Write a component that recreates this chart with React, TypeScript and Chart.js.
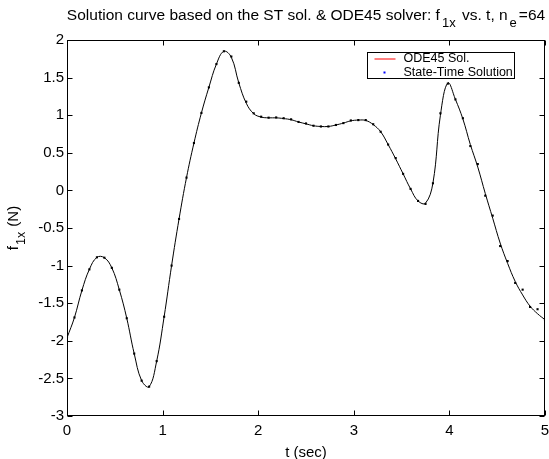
import React, { useEffect, useRef } from "react";
import { Chart, registerables } from "chart.js";

Chart.register(...registerables);

const tNodes = [
  0, 0.078, 0.156, 0.234, 0.313, 0.391, 0.469, 0.547, 0.625, 0.703, 0.781, 0.859, 0.938,
  1.016, 1.094, 1.172, 1.25, 1.328, 1.406, 1.484, 1.563, 1.641, 1.719, 1.797, 1.875, 1.953,
  2.031, 2.109, 2.188, 2.266, 2.344, 2.422, 2.5, 2.578, 2.656, 2.734, 2.813, 2.891, 2.969,
  3.047, 3.125, 3.203, 3.281, 3.359, 3.438, 3.516, 3.594, 3.672, 3.75, 3.828, 3.906, 3.984,
  4.063, 4.141, 4.219, 4.297, 4.375, 4.453, 4.531, 4.609, 4.688, 4.766, 4.844, 4.922, 5.0,
];

const stSolution = [
  -1.95, -1.69, -1.33, -1.05, -0.89, -0.895, -1.03, -1.32, -1.7, -2.17, -2.53, -2.61, -2.27,
  -1.68, -1.0, -0.38, 0.17, 0.63, 1.03, 1.37, 1.68, 1.85, 1.78, 1.43, 1.18, 1.025,
  0.98, 0.967, 0.97, 0.96, 0.945, 0.91, 0.89, 0.86, 0.85, 0.85, 0.87, 0.895, 0.93,
  0.935, 0.935, 0.88, 0.78, 0.61, 0.43, 0.22, 0.02, -0.14, -0.18, 0.095, 1.025, 1.42,
  1.21, 0.96, 0.59, 0.35, -0.07, -0.335, -0.74, -0.94, -1.23, -1.32, -1.55, -1.58, -1.72,
];

const odeSolution = [
  -1.96, -1.69, -1.33, -1.05, -0.89, -0.895, -1.03, -1.32, -1.7, -2.17, -2.53, -2.61, -2.27,
  -1.68, -1.0, -0.38, 0.17, 0.63, 1.03, 1.37, 1.68, 1.85, 1.77, 1.43, 1.16, 1.02,
  0.975, 0.965, 0.965, 0.955, 0.94, 0.91, 0.885, 0.86, 0.85, 0.85, 0.87, 0.895, 0.925,
  0.935, 0.93, 0.875, 0.78, 0.61, 0.42, 0.22, 0.02, -0.14, -0.17, 0.1, 1.0, 1.43,
  1.21, 0.95, 0.61, 0.31, -0.04, -0.37, -0.7, -0.97, -1.21, -1.39, -1.54, -1.64, -1.72,
];

const xTickValues = [0, 1, 2, 3, 4, 5];
const yTickValues = [-3, -2.5, -2, -1.5, -1, -0.5, 0, 0.5, 1, 1.5, 2];

const titleParts = [
  { text: "Solution curve based on the ST sol. & ODE45 solver: f", sub: false },
  { text: "1x", sub: true },
  { text: " vs. t, n", sub: false },
  { text: "e", sub: true },
  { text: "=64", sub: false },
];
const xLabel = "t (sec)";
const yLabelParts = [
  { text: "f", sub: false },
  { text: "1x", sub: true },
  { text: " (N)", sub: false },
];
const legendLabels = ["ODE45 Sol.", "State-Time Solution"];

const FONT = '"Liberation Sans", Arial, Helvetica, sans-serif';

type Part = { text: string; sub: boolean };

function drawRich(
  ctx: CanvasRenderingContext2D,
  parts: Part[],
  cx: number,
  baseline: number,
  mainSize: number,
  subSize: number,
  subShift: number,
  gap: number
) {
  let total = 0;
  const widths = parts.map((p) => {
    ctx.font = `${p.sub ? subSize : mainSize}px ${FONT}`;
    const w = ctx.measureText(p.text).width + (p.sub ? 2 * gap : 0);
    total += w;
    return w;
  });
  let x = cx - total / 2;
  ctx.textAlign = "left";
  ctx.textBaseline = "alphabetic";
  parts.forEach((p, i) => {
    ctx.font = `${p.sub ? subSize : mainSize}px ${FONT}`;
    ctx.fillText(p.text, x + (p.sub ? gap : 0), baseline + (p.sub ? subShift : 0));
    x += widths[i];
  });
}

const decorPlugin = {
  id: "matlabDecor",
  afterDraw(chart: any) {
    const ctx: CanvasRenderingContext2D = chart.ctx;
    const area = chart.chartArea;
    const xs = chart.scales.x;
    const ys = chart.scales.y;
    ctx.save();
    ctx.strokeStyle = "#000";
    ctx.fillStyle = "#000";
    ctx.lineWidth = 1;
    const L = Math.round(area.left) + 0.5;
    const R = Math.round(area.right) - 0.5;
    const T = Math.round(area.top) + 0.5;
    const B = Math.round(area.bottom) - 0.5;
    ctx.strokeRect(L, T, R - L, B - T);
    const tl = 5;
    ctx.beginPath();
    xTickValues.forEach((v) => {
      const px = Math.round(xs.getPixelForValue(v)) + 0.5;
      ctx.moveTo(px, B);
      ctx.lineTo(px, B - tl);
      ctx.moveTo(px, T);
      ctx.lineTo(px, T + tl);
    });
    yTickValues.forEach((v) => {
      const py = Math.round(ys.getPixelForValue(v)) + 0.5;
      ctx.moveTo(L, py);
      ctx.lineTo(L + tl, py);
      ctx.moveTo(R, py);
      ctx.lineTo(R - tl, py);
    });
    ctx.stroke();

    // Legend
    const lx = R - 30;
    const lw = 147;
    const ly = T + 12;
    const lh = 26;
    ctx.fillStyle = "#fff";
    ctx.fillRect(lx - lw, ly, lw, lh);
    ctx.strokeStyle = "#000";
    ctx.strokeRect(lx - lw, ly, lw, lh);
    ctx.save();
    ctx.beginPath();
    ctx.rect(lx - lw, ly, lw, lh);
    ctx.clip();
    const x0 = lx - lw;
    ctx.strokeStyle = "#ff0000";
    ctx.beginPath();
    ctx.moveTo(x0 + 7, ly + 6.5);
    ctx.lineTo(x0 + 28, ly + 6.5);
    ctx.stroke();
    ctx.fillStyle = "#0000ff";
    ctx.fillRect(x0 + 16, ly + 19, 2, 2);
    ctx.fillStyle = "#000";
    ctx.font = `12.5px ${FONT}`;
    ctx.textAlign = "left";
    ctx.textBaseline = "middle";
    ctx.fillText(legendLabels[0], x0 + 36, ly + 6.5);
    ctx.fillText(legendLabels[1], x0 + 36, ly + 20);
    ctx.restore();

    // Title
    ctx.fillStyle = "#000";
    const cx = (area.left + area.right) / 2;
    drawRich(ctx, titleParts as Part[], cx, 20, 15.5, 13, 7, 2);

    // X label
    ctx.font = `15px ${FONT}`;
    ctx.textAlign = "center";
    ctx.textBaseline = "alphabetic";
    ctx.fillText(xLabel, cx, 457);

    // Y label
    ctx.save();
    ctx.translate(18, (area.top + area.bottom) / 2);
    ctx.rotate(-Math.PI / 2);
    drawRich(ctx, yLabelParts as Part[], 0, 0, 15, 12.5, 7, 1);
    ctx.restore();

    ctx.restore();
  },
};

export default function App() {
  const canvasRef = useRef<HTMLCanvasElement | null>(null);

  useEffect(() => {
    const canvas = canvasRef.current;
    if (!canvas) return;
    const chart = new Chart(canvas, {
      type: "line",
      data: {
        datasets: [
          {
            label: legendLabels[0],
            data: tNodes.map((t, i) => ({ x: t, y: odeSolution[i] })),
            borderColor: "#000",
            borderWidth: 1,
            pointRadius: 0,
            fill: false,
            tension: 0.4,
          },
          {
            label: legendLabels[1],
            data: tNodes.map((t, i) => ({ x: t, y: stSolution[i] })),
            showLine: false,
            pointStyle: "rect",
            pointRadius: 1.5,
            pointBorderWidth: 0,
            backgroundColor: "#000",
            borderColor: "#000",
          },
        ],
      },
      options: {
        animation: false,
        responsive: false,
        maintainAspectRatio: false,
        layout: { padding: { top: 40, right: 3, left: 0, bottom: 0 } },
        plugins: {
          legend: { display: false },
          title: { display: false },
          tooltip: { enabled: false },
        },
        scales: {
          x: {
            type: "linear",
            min: 0,
            max: 5,
            grid: { display: false, drawTicks: false },
            border: { display: false },
            afterBuildTicks: (s: any) => {
              s.ticks = xTickValues.map((v) => ({ value: v }));
            },
            afterFit: (s: any) => {
              s.height = 43;
              s.paddingLeft = 0;
              s.paddingRight = 0;
            },
            ticks: {
              padding: 6,
              color: "#000",
              maxRotation: 0,
              autoSkip: false,
              font: { family: FONT, size: 15 },
              callback: (v: any) => String(v),
            },
          },
          y: {
            type: "linear",
            min: -3,
            max: 2,
            grid: { display: false, drawTicks: false },
            border: { display: false },
            afterBuildTicks: (s: any) => {
              s.ticks = yTickValues.map((v) => ({ value: v }));
            },
            afterFit: (s: any) => {
              s.width = 67;
              s.paddingTop = 0;
              s.paddingBottom = 0;
            },
            ticks: {
              padding: 3,
              color: "#000",
              autoSkip: false,
              font: { family: FONT, size: 15 },
              callback: (v: any) => String(v),
            },
          },
        },
      },
      plugins: [decorPlugin],
    } as any);
    return () => chart.destroy();
  }, []);

  return (
    <div
      style={{
        position: "fixed",
        left: 0,
        top: 0,
        width: 549,
        height: 459,
        background: "#fff",
      }}
    >
      <canvas ref={canvasRef} width={549} height={459} style={{ display: "block" }} />
    </div>
  );
}
